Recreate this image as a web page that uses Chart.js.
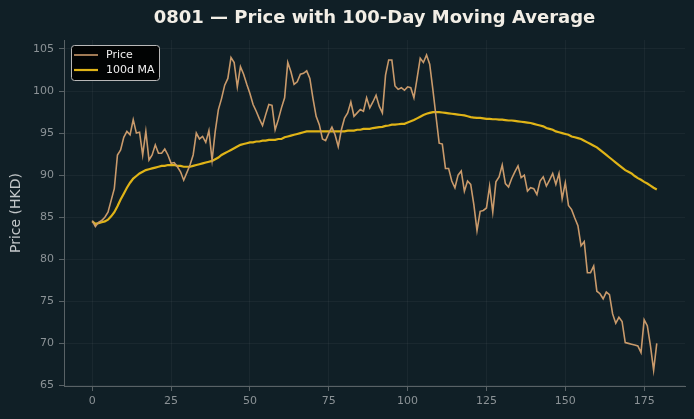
<!DOCTYPE html>
<html>
<head>
<meta charset="utf-8">
<script src="https://cdn.jsdelivr.net/npm/chart.js@4.4.1/dist/chart.umd.min.js"></script>
<style>
  html, body { margin: 0; padding: 0; background: #101f26; }
  #wrap { width: 694px; height: 419px; }
</style>
</head>
<body>
<div id="wrap"><canvas id="myChart" width="694" height="419"></canvas></div>
<script>
// daily closing price, day 0..179
var price = [
  84.6, 83.9, 84.4, 84.6, 85.0, 85.6, 87.0, 88.4, 92.4, 93.0,
  94.5, 95.2, 94.8, 96.6, 95.0, 95.1, 92.4, 95.2, 91.8, 92.4,
  93.6, 92.6, 92.6, 93.1, 92.4, 91.4, 91.5, 91.0, 90.4, 89.4,
  90.3, 91.2, 92.4, 95.0, 94.3, 94.6, 93.9, 95.3, 91.8, 95.2,
  97.8, 99.1, 100.7, 101.5, 104.0, 103.4, 100.5, 102.9, 102.0, 100.8,
  99.7, 98.4, 97.6, 96.7, 95.9, 97.2, 98.4, 98.3, 95.4, 96.6,
  98.0, 99.2, 103.4, 102.3, 100.8, 101.1, 102.0, 102.1, 102.4, 101.5,
  99.1, 97.0, 96.0, 94.3, 94.1, 95.0, 95.7, 94.8, 93.4, 95.4,
  96.8, 97.4, 98.7, 97.0, 97.4, 97.8, 97.6, 99.2, 98.0, 98.7,
  99.5, 98.2, 97.4, 101.9, 103.7, 103.7, 100.6, 100.2, 100.4, 100.1,
  100.5, 100.4, 99.2, 101.5, 103.9, 103.4, 104.3, 103.2, 100.2, 97.0,
  93.8, 93.7, 90.8, 90.8, 89.3, 88.5, 90.0, 90.5, 88.1, 89.3,
  88.9, 86.5, 83.4, 85.7, 85.8, 86.1, 88.7, 85.6, 89.2, 89.8,
  91.2, 89.0, 88.6, 89.6, 90.4, 91.1, 89.7, 90.0, 88.1, 88.5,
  88.4, 87.7, 89.3, 89.8, 88.7, 89.4, 90.2, 88.9, 90.2, 87.2,
  89.1, 86.4, 85.9, 84.9, 84.0, 81.6, 82.1, 78.4, 78.4, 79.2,
  76.2, 75.9, 75.3, 76.1, 75.8, 73.5, 72.4, 73.1, 72.6, 70.1,
  70.0, 69.9, 69.8, 69.7, 68.9, 72.8, 72.1, 69.7, 66.8, 70.0
];

// 100-day moving average
var ma100 = [
  84.5, 84.2, 84.3, 84.4, 84.5, 84.7, 85.1, 85.6, 86.3, 87.1,
  87.8, 88.5, 89.1, 89.6, 89.9, 90.2, 90.4, 90.6, 90.7, 90.8,
  90.9, 91.0, 91.1, 91.1, 91.2, 91.2, 91.2, 91.1, 91.1, 91.0,
  91.0, 91.0, 91.1, 91.2, 91.3, 91.4, 91.5, 91.6, 91.7, 91.9,
  92.1, 92.4, 92.6, 92.8, 93.0, 93.2, 93.4, 93.6, 93.7, 93.8,
  93.9, 93.9, 94.0, 94.0, 94.1, 94.1, 94.2, 94.2, 94.2, 94.3,
  94.3, 94.5, 94.6, 94.7, 94.8, 94.9, 95.0, 95.1, 95.2, 95.2,
  95.2, 95.2, 95.2, 95.2, 95.2, 95.2, 95.2, 95.2, 95.2, 95.2,
  95.2, 95.3, 95.3, 95.3, 95.4, 95.4, 95.5, 95.5, 95.5, 95.6,
  95.65, 95.7, 95.75, 95.85, 95.9, 96.0, 96.0, 96.05, 96.1, 96.1,
  96.25, 96.4, 96.55, 96.75, 96.95, 97.15, 97.3, 97.4, 97.5, 97.5,
  97.5, 97.45, 97.4, 97.35, 97.3, 97.25, 97.2, 97.15, 97.1, 97.0,
  96.9, 96.85, 96.8, 96.8, 96.75, 96.7, 96.7, 96.65, 96.65, 96.6,
  96.6, 96.55, 96.5, 96.5, 96.45, 96.4, 96.35, 96.3, 96.25, 96.2,
  96.1, 96.0, 95.9, 95.8, 95.6, 95.5, 95.4, 95.2, 95.1, 95.0,
  94.9, 94.8, 94.6, 94.5, 94.4, 94.3, 94.1, 93.9, 93.7, 93.5,
  93.3, 93.0, 92.7, 92.4, 92.1, 91.8, 91.5, 91.2, 90.9, 90.6,
  90.4, 90.2, 89.9, 89.65, 89.45, 89.2, 89.0, 88.75, 88.5, 88.3
];

var xTicks = [0, 25, 50, 75, 100, 125, 150, 175];
var yTicks = [65, 70, 75, 80, 85, 90, 95, 100, 105];

var tickColor = '#8b9296';
var gridColor = 'rgba(255,255,255,0.045)';
var spineColor = '#596266';

Chart.defaults.font.family = 'DejaVu Sans';

// legend drawn inside the plot, top-left, like the original
var boxLegend = {
  id: 'boxLegend',
  afterDraw: function (chart) {
    var ctx = chart.ctx;
    var a = chart.chartArea;
    var x = a.left + 7, y = a.top + 5, w = 88, h = 35;
    ctx.save();
    ctx.fillStyle = 'rgba(0,0,0,0.9)';
    ctx.strokeStyle = '#b8b8b8';
    ctx.lineWidth = 1;
    ctx.beginPath();
    ctx.roundRect(x + 0.5, y + 0.5, w, h, 3);
    ctx.fill();
    ctx.stroke();
    ctx.font = '11px "DejaVu Sans"';
    ctx.textBaseline = 'middle';
    chart.data.datasets.forEach(function (ds, i) {
      var ly = y + 10 + i * 15;
      ctx.strokeStyle = ds.borderColor;
      ctx.lineWidth = ds.borderWidth;
      ctx.beginPath();
      ctx.moveTo(x + 3, ly);
      ctx.lineTo(x + 27, ly);
      ctx.stroke();
      ctx.fillStyle = '#eeeeee';
      ctx.fillText(ds.label, x + 35, ly);
    });
    ctx.restore();
  }
};

var myChart = document.getElementById('myChart').getContext('2d');

var priceChart = new Chart(myChart, {
  type: 'line',
  data: {
    datasets: [{
      label: 'Price',
      data: price.map(function (v, i) { return { x: i, y: v }; }),
      borderColor: '#c99a6b',
      borderWidth: 1.6,
      pointRadius: 0,
      fill: false,
      tension: 0
    }, {
      label: '100d MA',
      data: ma100.map(function (v, i) { return { x: i, y: v }; }),
      borderColor: '#e0b417',
      borderWidth: 2.2,
      pointRadius: 0,
      fill: false,
      tension: 0
    }]
  },
  options: {
    responsive: false,
    animation: false,
    devicePixelRatio: 1,
    layout: { padding: { left: 0, right: 9, top: 0, bottom: 0 } },
    plugins: {
      legend: { display: false },
      tooltip: { enabled: false },
      title: {
        display: true,
        fullSize: false,
        text: '0801 — Price with 100-Day Moving Average',
        color: '#f2eee6',
        font: { size: 18, weight: 'bold' },
        padding: { top: 7.5, bottom: 10.9 }
      }
    },
    scales: {
      x: {
        type: 'linear',
        min: -8.95,
        max: 187.95,
        afterFit: function (s) { s.height = 33; },
        afterBuildTicks: function (s) { s.ticks = xTicks.map(function (v) { return { value: v }; }); },
        ticks: { color: tickColor, font: { size: 11 }, padding: 4, maxRotation: 0 },
        grid: { color: gridColor, tickColor: spineColor, tickLength: 5 },
        border: { color: spineColor, width: 1 }
      },
      y: {
        min: 64.93,
        max: 106.07,
        afterFit: function (s) { s.width = 64; },
        afterBuildTicks: function (s) { s.ticks = yTicks.map(function (v) { return { value: v }; }); },
        ticks: { color: tickColor, font: { size: 11 }, padding: 5 },
        grid: { color: gridColor, tickColor: spineColor, tickLength: 5 },
        border: { color: spineColor, width: 1 },
        title: {
          display: true,
          text: 'Price (HKD)',
          color: '#c3c7c9',
          font: { size: 14 },
          padding: { top: 8, bottom: 0 }
        }
      }
    }
  },
  plugins: [boxLegend]
});
</script>
</body>
</html>
